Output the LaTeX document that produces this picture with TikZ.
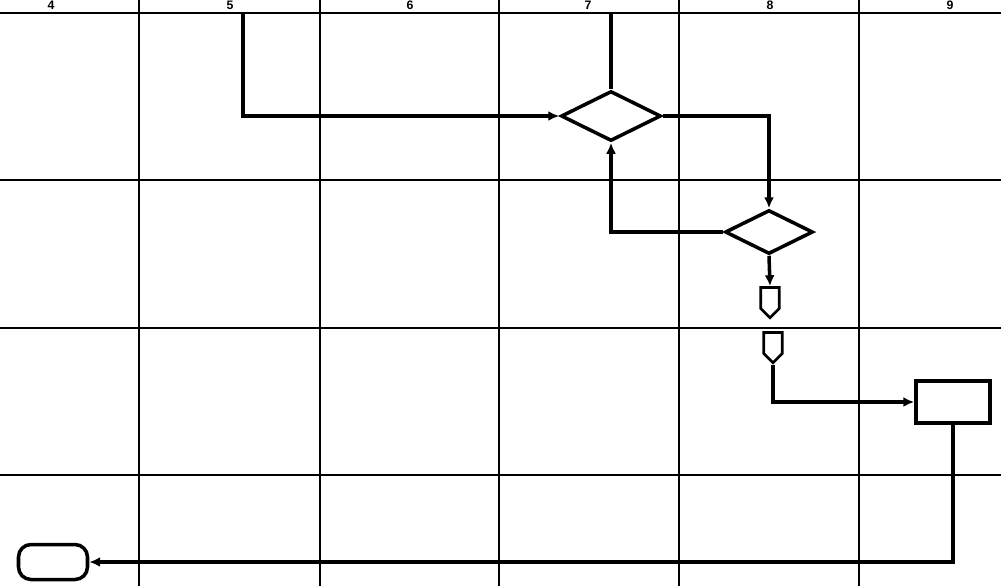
\documentclass[tikz,border=0pt]{standalone}
\usepackage{fontspec}
\setsansfont{Liberation Sans}
\usetikzlibrary{shapes.geometric,shapes.symbols,arrows.meta}
\begin{document}
\begin{tikzpicture}[x=0.02cm,y=-0.02cm,
    grid/.style={line width=0.8pt},
    flow/.style={line width=2pt,-{Latex[length=2.2mm,width=2mm]}},
    plain/.style={line width=2pt},
    decision/.style={diamond,draw,line width=2pt,inner sep=0pt,aspect=2},
    offpage/.style={signal,signal to=south,signal from=nowhere,draw,line width=1.5pt,
      inner sep=0pt,minimum width=0.37cm,minimum height=0.42cm},
    every node/.style={font=\sffamily\bfseries\scriptsize}]
  \useasboundingbox (0,0) rectangle (1001,586);
  % lane grid
  \draw[grid] (0,13) -- (1001,13);
  \draw[grid] (0,180) -- (1001,180);
  \draw[grid] (0,328) -- (1001,328);
  \draw[grid] (0,475) -- (1001,475);
  \draw[grid] (139,0) -- (139,586);
  \draw[grid] (320,0) -- (320,586);
  \draw[grid] (499,0) -- (499,586);
  \draw[grid] (679,0) -- (679,586);
  \draw[grid] (859,0) -- (859,586);
  \node (col4) at (51,5) {4};
  \node (col5) at (230,5) {5};
  \node (col6) at (410,5) {6};
  \node (col7) at (588,5) {7};
  \node (col8) at (770,5) {8};
  \node (col9) at (950,5) {9};
  % flow shapes
  \node[decision,minimum width=2cm,minimum height=1cm] (dec1) at (611,116) {};
  \node[decision,minimum width=1.76cm,minimum height=0.88cm] (dec2) at (769,232) {};
  \node[offpage] (off1) at (770,298) {};
  \node[offpage] (off2) at (773,343) {};
  \node[draw,line width=2pt,minimum width=1.48cm,minimum height=0.84cm,inner sep=0pt] (proc) at (953,402) {};
  \node[draw,line width=2pt,rounded corners=0.25cm,minimum width=1.38cm,minimum height=0.7cm,inner sep=0pt] (term) at (53,562) {};
  \coordinate (in5) at (243,13);
  \coordinate (in7) at (611,13);
  % connectors
  \draw[flow] (in5) |- (dec1.west);
  \draw[plain] (in7) -- (dec1.north);
  \draw[flow] (dec1.east) -| (dec2.north);
  \draw[flow] (dec2.west) -| (dec1.south);
  \draw[flow] (dec2.south) -- (off1.north);
  \draw[flow] (off2.south) |- (proc.west);
  \draw[flow] (proc.south) |- (term.east);
\end{tikzpicture}
\end{document}
